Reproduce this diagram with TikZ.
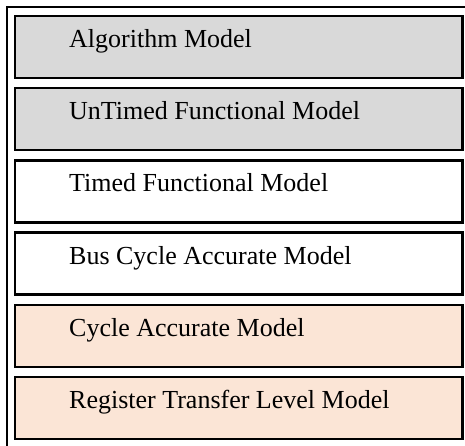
\documentclass[tikz,border=0pt]{standalone}
\usepackage{fontspec}
\setmainfont{Liberation Serif}
\usepackage{tikz}
\definecolor{modelgray}{HTML}{D9D9D9}
\definecolor{modelpeach}{HTML}{FBE5D6}
\tikzstyle{level}=[rectangle, draw=black, line width=2.5pt, minimum width=447.5pt, minimum height=62pt, anchor=north west, inner sep=0pt, outer sep=0pt]
\tikzstyle{caption}=[anchor=base west, inner sep=0pt, font=\fontsize{26}{30}\selectfont]

\begin{document}
\begin{tikzpicture}[x=1pt, y=-1pt]

      \useasboundingbox (0,0) rectangle (465,445);
      \clip (0,0) rectangle (465,445);
      \draw[line width=2pt] (7,7) rectangle (480,460);

      \node[level, fill=modelgray] (m1) at (15,16) {};
      \node[level, fill=modelgray] (m2) at (15,88.2) {};
      \node[level, fill=white] (m3) at (15,160.4) {};
      \node[level, fill=white] (m4) at (15,232.6) {};
      \node[level, fill=modelpeach] (m5) at (15,304.8) {};
      \node[level, fill=modelpeach] (m6) at (15,377) {};

      \node[caption] (t1) at (69,47.5) {Algorithm Model};
      \node[caption] (t2) at (69,119.7) {UnTimed Functional Model};
      \node[caption] (t3) at (69,191.9) {Timed Functional Model};
      \node[caption] (t4) at (69,264.1) {Bus Cycle Accurate Model};
      \node[caption] (t5) at (69,336.3) {Cycle Accurate Model};
      \node[caption] (t6) at (69,408.5) {Register Transfer Level Model};

    \end{tikzpicture}
\end{document}
